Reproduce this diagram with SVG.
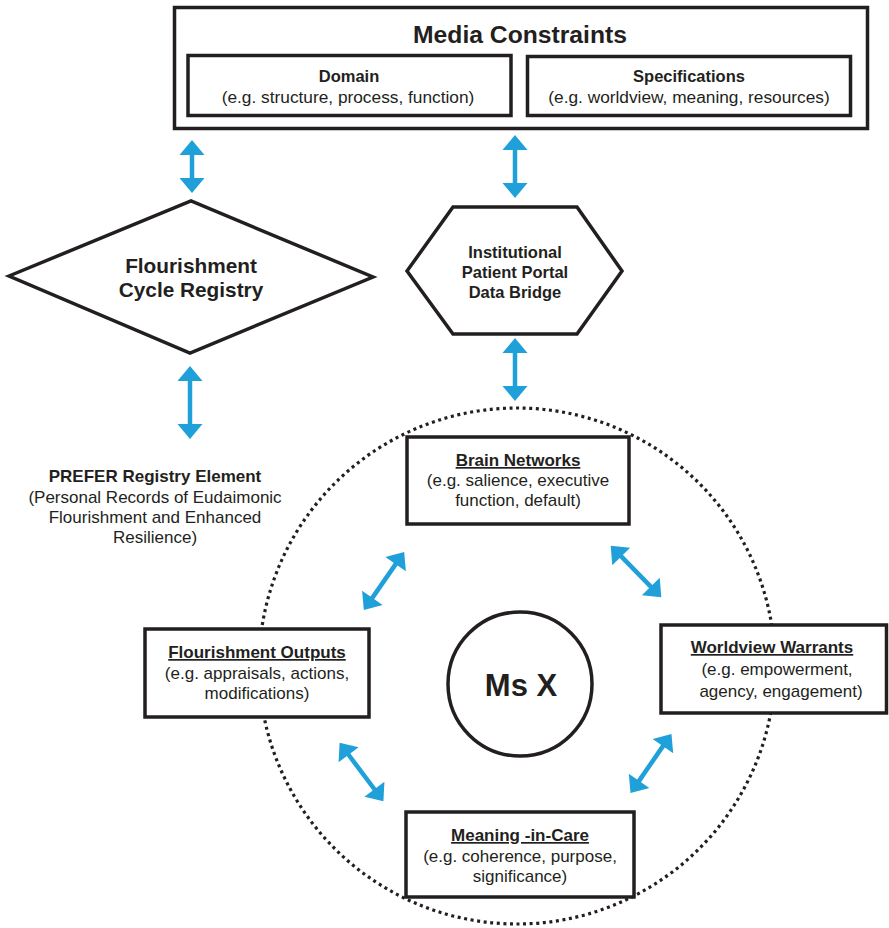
<svg xmlns="http://www.w3.org/2000/svg" width="889" height="928" viewBox="0 0 889 928">
<style>
text{font-family:"Liberation Sans",Arial,sans-serif;fill:#231f20;text-anchor:middle}
.b{font-weight:bold}
.box{fill:#fff;stroke:#231f20;stroke-width:3.5}
.shape{fill:#fff;stroke:#231f20;stroke-width:3.5;stroke-linejoin:miter}
.arr{stroke:#1fa0d9;stroke-width:4.5;fill:none;marker-start:url(#ah);marker-end:url(#ah)}
.u{text-decoration:underline}
</style>
<defs>
<marker id="ah" markerUnits="userSpaceOnUse" markerWidth="16" markerHeight="26" refX="1" refY="12.5" orient="auto-start-reverse" overflow="visible">
<path d="M0,0 L15,12.5 L0,25 Z" fill="#1fa0d9"/>
</marker>
</defs>
<rect width="889" height="928" fill="#fff"/>

<g id="ring">
<circle cx="517" cy="666" r="258" fill="none" stroke="#231f20" stroke-width="3.2" stroke-dasharray="3 3.6"/>
</g>

<g id="media-constraints">
<rect class="box" x="174.5" y="7.5" width="693" height="121"/>
<text class="b" x="520" y="43" font-size="24.7">Media Constraints</text>
</g>
<g id="domain">
<rect class="box" x="188" y="55.5" width="323" height="60"/>
<text class="b" x="349" y="82" font-size="16.5">Domain</text>
<text x="348" y="103" font-size="17.3">(e.g. structure, process, function)</text>
</g>
<g id="specifications">
<rect class="box" x="527.5" y="56.5" width="323" height="59"/>
<text class="b" x="689" y="82" font-size="16.5">Specifications</text>
<text x="689" y="103" font-size="17.3">(e.g. worldview, meaning, resources)</text>
</g>

<g id="flourishment-cycle-registry">
<polygon class="shape" points="9,276 191,201 373,277 190,353"/>
<text class="b" x="191" y="273" font-size="20.8">Flourishment</text>
<text class="b" x="191" y="297" font-size="20.8">Cycle Registry</text>
</g>

<g id="data-bridge">
<polygon class="shape" points="407,271 453,207 577,207 622,271 577,334 453,334"/>
<text class="b" x="515" y="258" font-size="16.5">Institutional</text>
<text class="b" x="515" y="278" font-size="16.5">Patient Portal</text>
<text class="b" x="515" y="298" font-size="16.5">Data Bridge</text>
</g>

<g id="prefer">
<text class="b" x="155" y="482" font-size="17">PREFER Registry Element</text>
<text x="155" y="503" font-size="17">(Personal Records of Eudaimonic</text>
<text x="155" y="523" font-size="17">Flourishment and Enhanced</text>
<text x="155" y="543" font-size="17">Resilience)</text>
</g>

<g id="brain-networks">
<rect class="box" x="407" y="437" width="222" height="87"/>
<text class="b" x="518" y="466" font-size="17"><tspan class="u">Brain Networks</tspan></text>
<text x="518" y="486" font-size="17">(e.g. salience, executive</text>
<text x="518" y="506" font-size="17">function, default)</text>
</g>

<g id="flourishment-outputs">
<rect class="box" x="145" y="629" width="224" height="88"/>
<text class="b" x="257" y="658" font-size="17"><tspan class="u">Flourishment Outputs</tspan></text>
<text x="257" y="679" font-size="17">(e.g. appraisals, actions,</text>
<text x="257" y="699" font-size="17">modifications)</text>
</g>

<g id="worldview-warrants">
<rect class="box" x="661" y="625" width="225.5" height="88"/>
<text class="b" x="772" y="653" font-size="17"><tspan class="u">Worldview Warrants</tspan></text>
<text x="777" y="675" font-size="17">(e.g. empowerment,</text>
<text x="781" y="697" font-size="17">agency, engagement)</text>
</g>

<g id="meaning-in-care">
<rect class="box" x="406" y="812" width="228" height="85"/>
<text class="b" x="520" y="841" font-size="17"><tspan class="u">Meaning -in-Care</tspan></text>
<text x="520" y="862" font-size="17">(e.g. coherence, purpose,</text>
<text x="520" y="882" font-size="17">significance)</text>
</g>

<g id="ms-x">
<circle cx="520" cy="684" r="72" fill="#fff" stroke="#231f20" stroke-width="3.5"/>
<text class="b" x="521" y="696" font-size="31">Ms X</text>
</g>

<g id="connectors">
<line class="arr" x1="192" y1="154" x2="192" y2="179"/>
<line class="arr" x1="515" y1="149" x2="515" y2="184"/>
<line class="arr" x1="515" y1="352" x2="515" y2="387"/>
<line class="arr" x1="190" y1="380" x2="190" y2="425"/>
<line class="arr" x1="371.8" y1="598.6" x2="396.2" y2="563.4"/>
<line class="arr" x1="620.5" y1="555.7" x2="651.5" y2="587.3"/>
<line class="arr" x1="348" y1="754" x2="375" y2="790"/>
<line class="arr" x1="663.5" y1="745.4" x2="638.5" y2="781.6"/>
</g>
</svg>
